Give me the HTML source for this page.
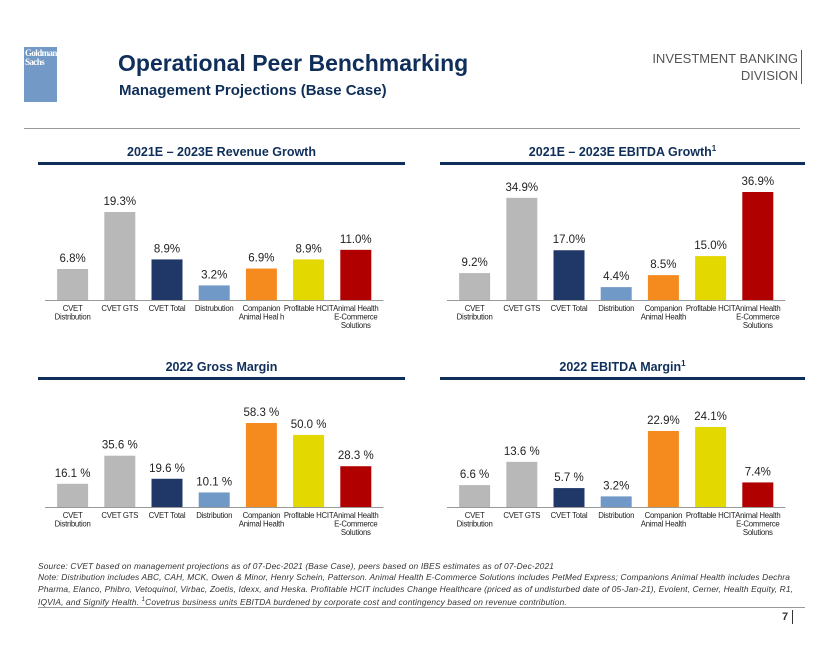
<!DOCTYPE html>
<html><head><meta charset="utf-8"><style>
body{margin:0;width:840px;height:649px;background:#fff;font-family:"Liberation Sans",Arial,sans-serif;position:relative;overflow:hidden}
.abs{position:absolute}
</style></head><body>
<div class="abs" style="left:24px;top:47px;width:33px;height:55px;background:#7399c6;color:#fff;font-family:'Liberation Serif',serif;font-size:9px;line-height:9px;font-weight:bold;padding:2px 0 0 1px;box-sizing:border-box;letter-spacing:-0.6px;overflow:hidden">Goldman<br>Sachs</div>
<div class="abs" style="left:118px;top:50px;font-size:23px;font-weight:bold;color:#0f2f5a">Operational Peer Benchmarking</div>
<div class="abs" style="left:119px;top:82px;font-size:15px;font-weight:bold;color:#0f2f5a">Management Projections (Base Case)</div>
<div class="abs" style="right:38px;top:50px;font-size:13px;line-height:17px;color:#555;text-align:right;border-right:1px solid #555;padding-right:3px">INVESTMENT BANKING<br>DIVISION</div>
<div class="abs" style="left:24px;top:128px;width:776px;height:1px;background:#999"></div>
<svg id="charts" class="abs" style="left:0;top:0" width="840" height="549"></svg>
<div class="abs" style="left:38px;top:561px;font-size:8.4px;line-height:11.3px;font-style:italic;color:#333;white-space:nowrap;letter-spacing:0.15px">Source: CVET based on management projections as of 07-Dec-2021 (Base Case), peers based on IBES estimates as of 07-Dec-2021<br>Note: Distribution includes ABC, CAH, MCK, Owen &amp; Minor, Henry Schein, Patterson. Animal Health E-Commerce Solutions includes PetMed Express; Companions Animal Health includes Dechra<br>Pharma, Elanco, Phibro, Vetoquinol, Virbac, Zoetis, Idexx, and Heska. Profitable HCIT includes Change Healthcare (priced as of undisturbed date of 05-Jan-21), Evolent, Cerner, Health Equity, R1,<br>IQVIA, and Signify Health. <sup style="font-size:6px">1</sup>Covetrus business units EBITDA burdened by corporate cost and contingency based on revenue contribution.</div>
<div class="abs" style="left:38px;top:607px;width:767px;height:1px;background:#999"></div>
<div class="abs" style="left:782px;top:610px;font-size:11px;font-weight:bold;color:#333;border-right:1px solid #333;padding-right:4px;line-height:14px">7</div>
<script>
const cats1=[["CVET","Distribution"],["CVET GTS"],["CVET Total"],["Distrubution"],["Companion","Animal Heal h"],["Profitable HCIT"],["Animal Health","E-Commerce","Solutions"]];
const cats2=[["CVET","Distribution"],["CVET GTS"],["CVET Total"],["Distribution"],["Companion","Animal Health"],["Profitable HCIT"],["Animal Health","E-Commerce","Solutions"]];
const revenueGrowth=[6.8,19.3,8.9,3.2,6.9,8.9,11.0];
const revenueLabels=["6.8%","19.3%","8.9%","3.2%","6.9%","8.9%","11.0%"];
const ebitdaGrowth=[9.2,34.9,17.0,4.4,8.5,15.0,36.9];
const ebitdaGrowthLabels=["9.2%","34.9%","17.0%","4.4%","8.5%","15.0%","36.9%"];
const grossMargin=[16.1,35.6,19.6,10.1,58.3,50.0,28.3];
const grossLabels=["16.1 %","35.6 %","19.6 %","10.1 %","58.3 %","50.0 %","28.3 %"];
const ebitdaMargin=[6.6,13.6,5.7,3.2,22.9,24.1,7.4];
const ebitdaMarginLabels=["6.6 %","13.6 %","5.7 %","3.2%","22.9%","24.1%","7.4%"];
const colors=["#b8b8b8","#b8b8b8","#1f3868","#7099c8","#f58a1f","#e3d800","#b00000"];
const NS="http://www.w3.org/2000/svg";
const svg=document.getElementById('charts');
function mk(tag,attrs,parent){const e=document.createElementNS(NS,tag);for(const k in attrs)e.setAttribute(k,attrs[k]);(parent||svg).appendChild(e);return e;}
function chart(key,title,sup,x0,ruleY,baseY,x1,maxV,maxH,vals,labels,cats){
  const g=mk('g',{});
  
  
  const t=mk('text',{x:(x0+x1)/2,y:ruleY-6,'text-anchor':'middle','font-size':'12.5','font-weight':'bold',fill:'#0f2f5a'},g);
  t.textContent=title;
  
  
  if(sup){const s=mk('tspan',{'font-size':'8',dy:'-5'},t);s.textContent='1';}
  const r=mk('rect',{x:x0,y:ruleY,width:x1-x0,height:3,fill:'#0f2f5a'},g);
  
  
  const plotL=x0+11, step=47.2, bw=31;
  const xs=i=>plotL+step*i+(step-bw)/2;
  const ys=v=>baseY-v/maxV*maxH;
  vals.forEach((v,i)=>{
    const b=mk('rect',{x:xs(i),y:ys(v),width:bw,height:baseY-ys(v),fill:colors[i]},g);
    
    
    const l=mk('text',{x:xs(i)+bw/2,y:ys(v)-7,'text-anchor':'middle','font-size':'11.5',fill:'#222'},g);
    l.textContent=labels[i];
    
    
    const c=mk('text',{'text-anchor':'middle','font-size':'7.8',fill:'#222','letter-spacing':'-0.25'},g);
    
    
    cats[i].forEach((line,j)=>{const sp=mk('tspan',{x:xs(i)+bw/2,y:baseY+11+j*8.5},c);sp.textContent=line;});
  });
  const ax=mk('line',{x1:plotL-4,x2:plotL+step*7+4,y1:baseY+0.5,y2:baseY+0.5,stroke:'#999','stroke-width':1},g);
  
  
}
chart('revenue-growth','2021E – 2023E Revenue Growth',false,38,162,300,405,19.3,88,revenueGrowth,revenueLabels,cats1);
chart('ebitda-growth','2021E – 2023E EBITDA Growth',true,440,162,300,805,36.9,108,ebitdaGrowth,ebitdaGrowthLabels,cats2);
chart('gross-margin','2022 Gross Margin',false,38,377,507,405,58.3,84,grossMargin,grossLabels,cats2);
chart('ebitda-margin','2022 EBITDA Margin',true,440,377,507,805,24.1,80,ebitdaMargin,ebitdaMarginLabels,cats2);
</script>
</body></html>
